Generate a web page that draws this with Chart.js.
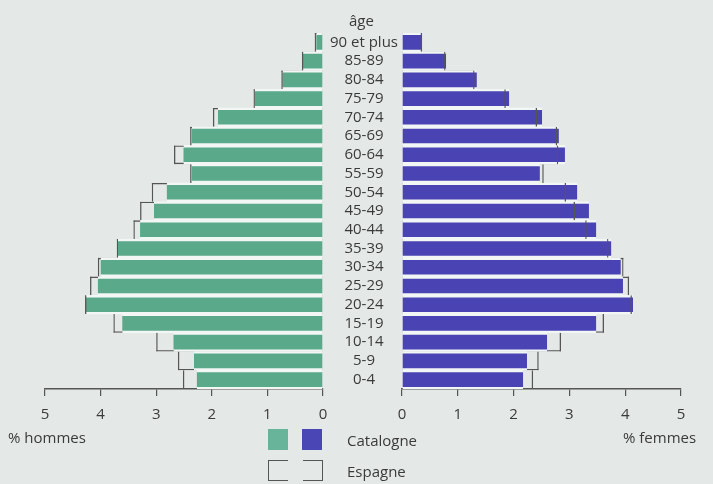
<!DOCTYPE html>
<html lang="fr">
<head>
<meta charset="utf-8">
<script src="https://cdn.jsdelivr.net/npm/chart.js@4.4.1/dist/chart.umd.min.js"></script>
<style>
  html, body { margin: 0; padding: 0; }
  body {
    width: 713px; height: 484px; background: #e4e8e7;
    position: relative; overflow: hidden;
    font-family: 'Open Sans', sans-serif; color: #3a3a3a;
  }
  #left { position: absolute; left: 0; top: 0; width: 330px; height: 434px; }
  #right { position: absolute; left: 324px; top: 0; width: 389px; height: 434px; }
  .txt { position: absolute; font-size: 15px; white-space: nowrap; line-height: 20px; }
  .box { position: absolute; width: 20px; height: 21px; box-sizing: border-box; }
</style>
</head>
<body>
<div id="left"><canvas id="chartH"></canvas></div>
<div id="right"><canvas id="chartF"></canvas></div>

<div class="txt" style="left:349px; top:10px;">âge</div>
<div class="txt" style="left:8px; top:427px;">% hommes</div>
<div class="txt" style="left:623px; top:427px;">% femmes</div>

<!-- légende -->
<div class="box" style="left:268px; top:429px; background:#68b49a;"></div>
<div class="box" style="left:302px; top:429px; background:#4a46b6;"></div>
<div class="txt" style="left:347px; top:430px;">Catalogne</div>
<div class="box" style="left:268px; top:460px; border:1.5px solid #555; border-right:none;"></div>
<div class="box" style="left:303px; top:460px; border:1.5px solid #555; border-left:none;"></div>
<div class="txt" style="left:347px; top:461px;">Espagne</div>

<script>
// --- données (de 0-4 à 90 et plus) ---
const ages = ['0-4', '5-9', '10-14', '15-19', '20-24', '25-29', '30-34', '35-39', '40-44',
  '45-49', '50-54', '55-59', '60-64', '65-69', '70-74', '75-79', '80-84', '85-89', '90 et plus'];

// % hommes
const hommesCatalogne = [2.27, 2.32, 2.69, 3.61, 4.27, 4.05, 4.00, 3.69, 3.29,
  3.04, 2.81, 2.36, 2.51, 2.36, 1.89, 1.23, 0.73, 0.36, 0.12];
const hommesEspagne = [2.52, 2.61, 3.00, 3.77, 4.28, 4.19, 4.05, 3.71, 3.41,
  3.29, 3.08, 2.39, 2.68, 2.39, 1.98, 1.25, 0.75, 0.38, 0.15];

// % femmes
const femmesCatalogne = [2.17, 2.24, 2.60, 3.48, 4.14, 3.96, 3.92, 3.75, 3.48,
  3.35, 3.14, 2.47, 2.92, 2.81, 2.51, 1.92, 1.34, 0.79, 0.36];
const femmesEspagne = [2.35, 2.45, 2.85, 3.62, 4.12, 4.07, 3.97, 3.70, 3.31,
  3.10, 2.94, 2.54, 2.80, 2.78, 2.42, 1.86, 1.30, 0.78, 0.36];

const xTicks = [0, 1, 2, 3, 4, 5];

Chart.defaults.font.family = "'Open Sans', sans-serif";
Chart.defaults.color = '#3a3a3a';

const GAP = '#f2f6f5';
const LINE = '#555555';
const LW = 1.3;

// raccords horizontaux du contour en escalier (dessinés derrière)
function stepJoins(values) {
  return ctx => {
    const i = ctx.dataIndex;
    const v = values[i];
    const w = { top: 0, bottom: 0, left: 0, right: 0 };
    // reverse: true → l'indice suivant est au-dessus
    if (i === values.length - 1 || v > values[i + 1]) w.top = LW;
    if (i > 0 && v >= values[i - 1]) w.bottom = LW;
    return w;
  };
}

function makeChart(id, catalogne, espagne, color, isLeft) {
  const endSide = isLeft ? 'left' : 'right';
  const endOnly = { top: 0, bottom: 0, left: 0, right: 0 };
  endOnly[endSide] = LW;

  const yAxis = {
    display: !isLeft,
    reverse: true,
    grid: { display: false, drawTicks: false },
    border: { display: false },
    ticks: { autoSkip: false, crossAlign: 'center', padding: 4, color: '#3a3a3a', font: { size: 15 } }
  };
  if (!isLeft) yAxis.afterFit = s => { s.width = 78; };

  const common = { grouped: false, barPercentage: 1, categoryPercentage: 1, borderSkipped: false };

  return new Chart(document.getElementById(id), {
    type: 'bar',
    data: {
      labels: ages,
      datasets: [
        {
          ...common,
          label: 'Espagne',
          data: espagne,
          backgroundColor: 'rgba(0,0,0,0)',
          borderColor: LINE,
          borderWidth: endOnly,
          inflateAmount: 0,
          order: 0
        },
        {
          ...common,
          label: 'Catalogne',
          data: catalogne,
          backgroundColor: color,
          borderColor: GAP,
          borderWidth: { top: 2.4, bottom: 2.4, left: 0, right: 0 },
          order: 1
        },
        {
          ...common,
          label: 'Espagne (raccords)',
          data: espagne,
          backgroundColor: 'rgba(0,0,0,0)',
          borderColor: LINE,
          borderWidth: stepJoins(espagne),
          inflateAmount: 0,
          order: 2
        }
      ]
    },
    options: {
      indexAxis: 'y',
      responsive: true,
      maintainAspectRatio: false,
      animation: false,
      layout: {
        padding: isLeft ? { left: 45, right: 7, top: 33, bottom: 0 }
                        : { left: 0, right: 32, top: 33, bottom: 0 }
      },
      plugins: { legend: { display: false }, tooltip: { enabled: false } },
      scales: {
        x: {
          reverse: isLeft,
          min: 0,
          max: 5,
          afterBuildTicks: s => { s.ticks = xTicks.map(v => ({ value: v })); },
          ticks: { padding: 10, color: '#3a3a3a', font: { size: 15 } },
          grid: { drawOnChartArea: false, tickLength: 7, color: LINE, lineWidth: 1.2 },
          border: { color: LINE, width: 1.5 }
        },
        y: yAxis
      }
    }
  });
}

makeChart('chartH', hommesCatalogne, hommesEspagne, '#5aa98a', true);
makeChart('chartF', femmesCatalogne, femmesEspagne, '#4a43b3', false);
</script>
</body>
</html>
